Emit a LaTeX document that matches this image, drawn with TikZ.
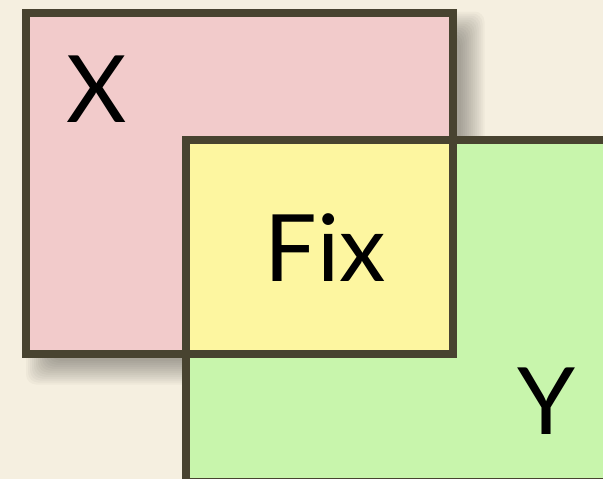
\documentclass[tikz,border=0pt]{standalone}
\usepackage{fontspec}
\setmainfont{Lato}
\usetikzlibrary{calc,backgrounds}
\definecolor{paper}{HTML}{F5EFE0}
\definecolor{setx}{HTML}{F2CBCB}
\definecolor{sety}{HTML}{C8F5AC}
\definecolor{both}{HTML}{FDF6A0}
\definecolor{edge}{HTML}{484330}
\tikzset{
  region/.style={rectangle, inner sep=0pt, outer sep=0pt, anchor=north west},
  border/.style={draw=edge, line width=8pt},
  shadowlayer/.style={fill=black, opacity=0.028, rounded corners=10pt},
  setlabel/.style={inner sep=0pt, anchor=base, font=\fontsize{93}{93}\selectfont, text=black}
}
\begin{document}
\begin{tikzpicture}[x=1pt, y=-1pt]
  \useasboundingbox (0,0) rectangle (603,479);
  % the two sets
  \node[region, fill=setx, minimum width=426.5pt, minimum height=341pt] (X) at (26,12.5) {};
  \node[region, fill=sety, minimum width=460pt, minimum height=342pt] (Y) at (186,140) {};
  % paper and a soft drop shadow under X
  \begin{scope}[on background layer]
    \fill[paper] (0,0) rectangle (603,479);
    \foreach \e in {-8,-6,...,16}
      \fill[shadowlayer] ($(X.north west)+(16-\e,15-\e)$) rectangle ($(X.south east)+(16+\e,15+\e)$);
  \end{scope}
  % their intersection
  \fill[both] (Y.north west) rectangle (X.south east);
  % outlines on top
  \draw[border] (X.north west) rectangle (X.south east);
  \draw[border] (Y.north west) rectangle (Y.south east);
  % labels
  \node[setlabel] (lx) at (97,122) {X};
  \node[setlabel] (lfix) at (325,281) {Fix};
  \node[setlabel] (ly) at (547,434) {Y};
\end{tikzpicture}
\end{document}
